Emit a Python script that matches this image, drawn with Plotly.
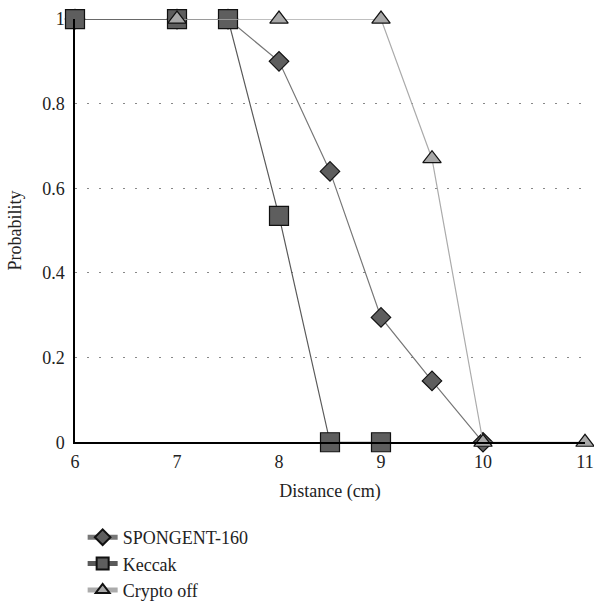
import plotly.graph_objects as go

sp_x = [6, 7, 7.5, 8, 8.5, 9, 9.5, 10]
sp_y = [1, 1, 1, 0.9, 0.64, 0.295, 0.145, 0]
kc_x = [6, 7, 7.5, 8, 8.5, 9]
kc_y = [1, 1, 1, 0.535, 0, 0]
co_x = [7, 8, 9, 9.5, 10, 11]
co_y = [1, 1, 1, 0.67, 0, 0]
x_ticks = [6, 7, 8, 9, 10, 11]
y_ticks = [0, 0.2, 0.4, 0.6, 0.8, 1]
y_tick_text = ["0", "0.2", "0.4", "0.6", "0.8", "1"]

FONT = "Liberation Serif"

fig = go.Figure()
fig.add_trace(go.Scatter(
    x=sp_x, y=sp_y, name="SPONGENT-160", mode="lines+markers",
    line=dict(color="#777777", width=1.2),
    marker=dict(symbol="diamond", size=15, color="#5e5e5e",
                line=dict(color="#111111", width=1.2)),
    cliponaxis=False))
fig.add_trace(go.Scatter(
    x=kc_x, y=kc_y, name="Keccak", mode="lines+markers",
    line=dict(color="#5a5a5a", width=1.2),
    marker=dict(symbol="square", size=19, color="#5e5e5e",
                line=dict(color="#111111", width=1.2)),
    cliponaxis=False))
fig.add_trace(go.Scatter(
    x=co_x, y=co_y, name="Crypto off", mode="lines+markers",
    line=dict(color="#ababab", width=1.2),
    marker=dict(symbol="triangle-up", size=16, color="#a8a8a8",
                line=dict(color="#111111", width=1.2)),
    cliponaxis=False))

fig.update_layout(
    width=594, height=609,
    margin=dict(l=75, r=9, t=19, b=0),
    paper_bgcolor="white", plot_bgcolor="white",
    font=dict(family=FONT, size=18, color="#222222"),
    showlegend=True,
    legend=dict(x=0.015, xanchor="left", y=0.1508, yanchor="top",
                orientation="v", font=dict(family=FONT, size=18),
                tracegroupgap=0, itemwidth=30, itemsizing="constant"),
    xaxis=dict(range=[6, 11], tickvals=x_ticks, showgrid=False,
               showline=True, linecolor="black", linewidth=1.5,
               ticks="", zeroline=False, automargin=False,
               ticklabelstandoff=2,
               title=dict(text="Distance (cm)", standoff=14,
                          font=dict(family=FONT, size=18))),
    yaxis=dict(range=[0, 1.0001], tickvals=y_ticks, ticktext=y_tick_text,
               domain=[0.2814, 1],
               showgrid=True, gridcolor="#888888", griddash="2px,10px",
               gridwidth=1.2, showline=True, linecolor="black",
               linewidth=1.5, ticks="", zeroline=False, automargin=False,
               ticklabelstandoff=5,
               title=dict(text="Probability", standoff=16,
                          font=dict(family=FONT, size=18))),
)

fig.write_html("out.html", config={"displayModeBar": False},
               post_script="document.body.style.margin='0';")
